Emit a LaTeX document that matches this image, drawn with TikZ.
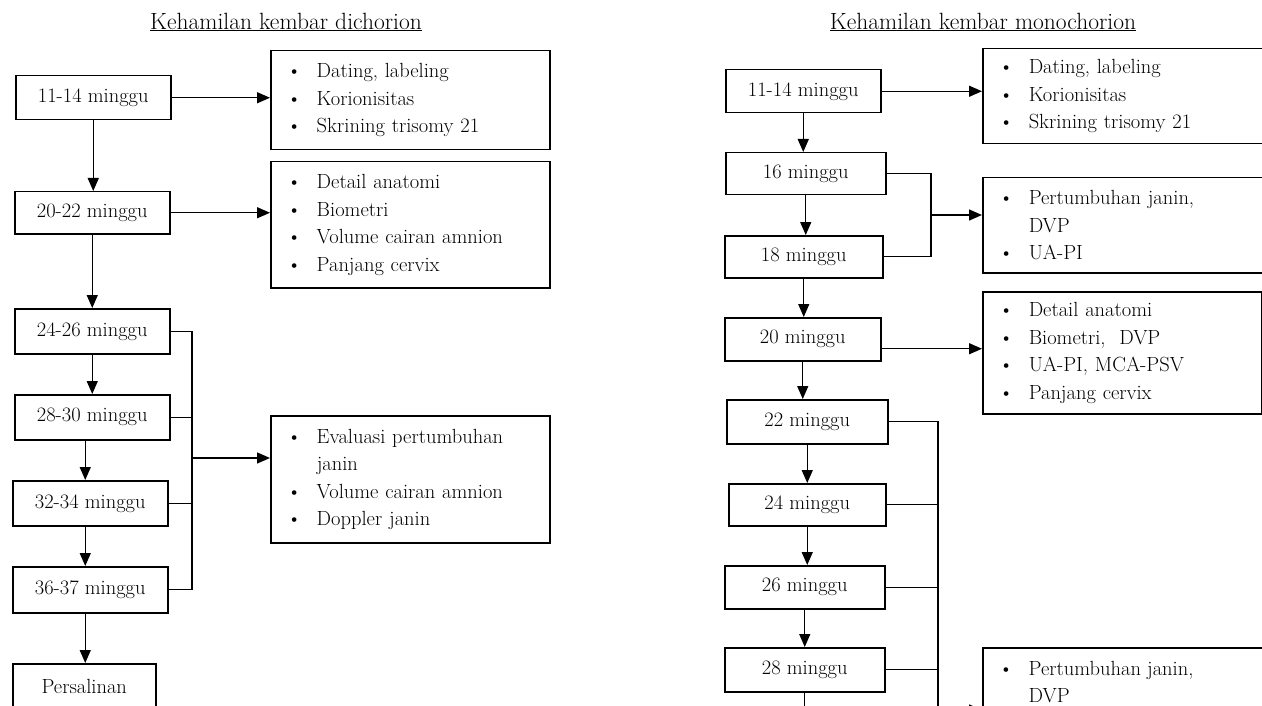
\documentclass[tikz,border=0pt]{standalone}
\usetikzlibrary{arrows.meta}
\newcommand\lbul{\makebox[30pt][l]{\textbullet}}
\newcommand\lind{\hspace*{30pt}}
\begin{document}
\begin{tikzpicture}[x=1pt,y=-1pt,
  line width=1.4pt,
  every node/.style={font=\fontsize{20.5}{27.5}\selectfont},
  wk/.style={draw, line width=1.5pt, inner sep=0pt, anchor=north west},
  lst/.style={draw, line width=1.5pt, anchor=north west, align=left, inner xsep=16pt, inner ysep=0pt},
  txt/.style={inner sep=0pt, align=left},
  arr/.style={-{Triangle[length=13pt,width=11pt]}},
  ttl/.style={font=\fontsize{23.5}{28}\selectfont}]
\useasboundingbox (0,0) rectangle (1262,706);
\clip (0,0) rectangle (1262,706);

% titles
\node[ttl] (t1) at (286,22) {\underline{Kehamilan kembar dichorion}};
\node[ttl] (t2) at (983,22) {\underline{Kehamilan kembar monochorion}};

% ---------- dichorion ----------
\node[wk, minimum width=155pt, minimum height=44pt] (a1) at (15,75) {11-14 minggu};
\node[wk, minimum width=155pt, minimum height=42pt] (a2) at (14,191) {20-22 minggu};
\node[wk, minimum width=155pt, minimum height=45pt] (a3) at (14,308) {24-26 minggu};
\node[wk, minimum width=155pt, minimum height=45pt] (a4) at (14,394) {28-30 minggu};
\node[wk, minimum width=155pt, minimum height=45pt] (a5) at (12,480) {32-34 minggu};
\node[wk, minimum width=155pt, minimum height=46pt] (a6) at (12,566) {36-37 minggu};
\node[wk, minimum width=143pt, minimum height=45pt] (a7) at (12,663) {Persalinan};

\node[lst, text width=247pt, minimum height=99pt] (b1) at (270,50)
  {\lbul Dating, labeling\\ \lbul Korionisitas\\ \lbul Skrining trisomy 21};
\node[lst, text width=247pt, minimum height=126pt] (b2) at (270,161)
  {\lbul Detail anatomi\\ \lbul Biometri\\ \lbul Volume cairan amnion\\ \lbul Panjang cervix};
\node[lst, text width=247pt, minimum height=127pt] (b3) at (270,415)
  {\lbul Evaluasi pertumbuhan\\ \lind janin\\ \lbul Volume cairan amnion\\ \lbul Doppler janin};

\draw[arr] (a1.east) -- (a1.east -| b1.west);
\draw[arr] (a2.east) -- (a2.east -| b2.west);
\draw[arr] (a1.south) -- (a1.south |- a2.north);
\draw[arr] (a2.south) -- (a2.south |- a3.north);
\draw[arr] (a3.south) -- (a3.south |- a4.north);
\draw[arr] ([xshift=-7pt]a4.south) -- ([xshift=-7pt]a4.south |- a5.north);
\draw[arr] ([xshift=-5pt]a5.south) -- ([xshift=-5pt]a5.south |- a6.north);
\draw[arr] ([xshift=-5pt]a6.south) -- ([xshift=-5pt]a6.south |- a7.north);

\coordinate (jl) at (192,458);
\draw (a3.east) -- (a3.east -| jl) -- (a6.east -| jl) -- (a6.east);
\draw (a4.east) -- (a4.east -| jl);
\draw (a5.east) -- (a5.east -| jl);
\draw[arr] (jl) -- (jl -| b3.west);

% ---------- monochorion ----------
\node[wk, minimum width=155pt, minimum height=43pt] (m1) at (725,69) {11-14 minggu};
\node[wk, minimum width=160pt, minimum height=42pt] (m2) at (725,152) {16 minggu};
\node[wk, minimum width=158pt, minimum height=42pt] (m3) at (724,235) {18 minggu};
\node[wk, minimum width=156pt, minimum height=43pt] (m4) at (724,317) {20 minggu};
\node[wk, minimum width=161pt, minimum height=44pt] (m5) at (726,399) {22 minggu};
\node[wk, minimum width=157pt, minimum height=42pt] (m6) at (728,483) {24 minggu};
\node[wk, minimum width=160pt, minimum height=43pt] (m7) at (724,565) {26 minggu};
\node[wk, minimum width=160pt, minimum height=44pt] (m8) at (724,647) {28 minggu};

\node[lst, text width=300pt, minimum height=95pt] (mb1) at (982,48)
  {\lbul Dating, labeling\\ \lbul Korionisitas\\ \lbul Skrining trisomy 21};
\node[lst, text width=300pt, minimum height=95pt] (mb2) at (982,177)
  {\lbul Pertumbuhan janin,\\ \lind DVP\\ \lbul UA-PI};
\node[lst, text width=247pt, minimum height=122pt] (mb3) at (982,291)
  {\lbul Detail anatomi\\ \lbul Biometri,\ \ DVP\\ \lbul UA-PI, MCA-PSV\\ \lbul Panjang cervix};
\node[wk, minimum width=330pt, minimum height=100pt] (mb4) at (982,647) {};
\node[txt, anchor=north west] (mb4t) at (998,660.5)
  {\lbul Pertumbuhan janin,\\ \lind DVP};

\coordinate (mend) at (804,740);
\draw[arr] (m1.south) -- (m1.south |- m2.north);
\draw[arr] (m2.south) -- (m2.south |- m3.north);
\draw[arr] (m3.south) -- (m3.south |- m4.north);
\draw[arr] (m4.south) -- (m4.south |- m5.north);
\draw[arr] (m5.south) -- (m5.south |- m6.north);
\draw[arr] (m6.south) -- (m6.south |- m7.north);
\draw[arr] (m7.south) -- (m7.south |- m8.north);
\draw[arr] (m8.south) -- (m8.south |- mend);

\draw[arr] (m1.east) -- (m1.east -| mb1.west);

\coordinate (jm1) at (931,215);
\draw (m2.east) -- (m2.east -| jm1) -- (m3.east -| jm1) -- (m3.east);
\draw[arr] (jm1) -- (jm1 -| mb2.west);

\draw[arr] ([yshift=-9.5pt]m4.east) -- ([yshift=-9.5pt]m4.east -| mb3.west);

\coordinate (jm2) at (938,710);
\coordinate (jmend) at (938,740);
\draw (m5.east) -- (m5.east -| jm2) -- (jmend);
\draw (m6.east) -- (m6.east -| jm2);
\draw (m7.east) -- (m7.east -| jm2);
\draw (m8.east) -- (m8.east -| jm2);
\draw[arr] (jm2) -- (jm2 -| mb4.west);
\end{tikzpicture}
\end{document}
